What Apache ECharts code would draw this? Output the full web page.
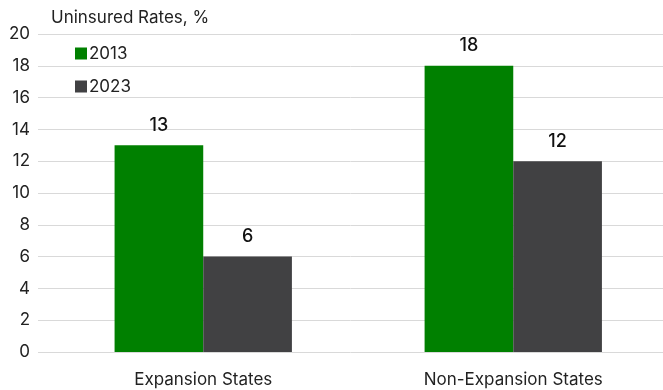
<!DOCTYPE html>
<html><head><meta charset="utf-8">
<script src="https://cdn.jsdelivr.net/npm/echarts@6/dist/echarts.min.js"></script>
<style>html,body{margin:0;padding:0;background:#fff}#c{width:663px;height:390px}</style>
</head><body><div id="c"></div>
<script>
const categories = ['Expansion States', 'Non-Expansion States'];
const seriesNames = ['2013', '2023'];
const values2013 = [13, 18];
const values2023 = [6, 12];
const yTicks = [0, 2, 4, 6, 8, 10, 12, 14, 16, 18, 20];

const font = 'Inter';
const idx = categories.map((c, i) => i);
const chart = echarts.init(document.getElementById('c'), null, {renderer: 'canvas'});
chart.setOption({
  animation: false,
  textStyle: {fontFamily: font},
  title: {text: 'Uninsured Rates, %', left: 46, top: 4,
    textStyle: {fontFamily: font, fontSize: 17, fontWeight: 'normal', color: '#222'}},
  legend: {orient: 'vertical', left: 70, top: 40, itemWidth: 12, itemHeight: 12, itemGap: 16,
    icon: 'rect', data: seriesNames,
    textStyle: {fontFamily: font, fontSize: 17, color: '#222', padding: [0, 0, 0, -3]}},
  grid: {left: 38, right: 0, top: 34, bottom: 38},
  xAxis: {type: 'value', min: -0.533, max: 1.483,
    axisLine: {show: false}, axisTick: {show: false}, splitLine: {show: false},
    axisLabel: {customValues: idx, formatter: v => categories[Math.round(v)],
      fontFamily: font, fontSize: 17, color: '#222', margin: 19}},
  yAxis: {type: 'value', min: yTicks[0], max: yTicks[yTicks.length - 1], interval: 2,
    axisLine: {show: false}, axisTick: {show: false},
    axisLabel: {fontFamily: font, fontSize: 17, color: '#222', margin: 8},
    splitLine: {lineStyle: {color: '#d9d9d9', width: 1}}},
  series: [
    {name: seriesNames[0], type: 'bar', data: idx.map(i => [i, values2013[i]]),
      barGap: '0%', barCategoryGap: '42.8%', itemStyle: {color: '#008000'},
      label: {show: true, position: 'top', distance: 11, fontFamily: font, fontSize: 18, fontWeight: 500, color: '#111',
        formatter: p => p.value[1]}},
    {name: seriesNames[1], type: 'bar', data: idx.map(i => [i, values2023[i]]),
      barGap: '0%', barCategoryGap: '42.8%', itemStyle: {color: '#414143'},
      label: {show: true, position: 'top', distance: 11, fontFamily: font, fontSize: 18, fontWeight: 500, color: '#111',
        formatter: p => p.value[1]}}
  ]
});
</script></body></html>
